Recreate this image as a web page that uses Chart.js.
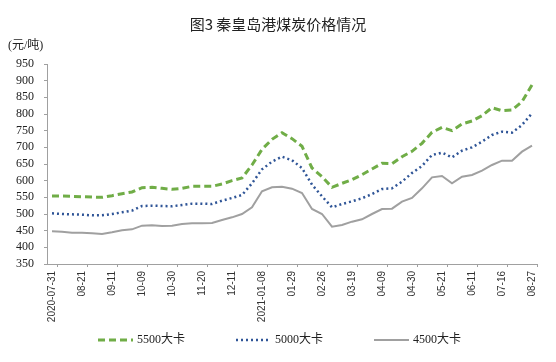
<!DOCTYPE html>
<html>
<head>
<meta charset="utf-8">
<script src="https://cdn.jsdelivr.net/npm/chart.js@4/dist/chart.umd.min.js"></script>
<style>
  html, body { margin: 0; padding: 0; background: #fff; }
  #wrap { width: 556px; height: 362px; }
</style>
</head>
<body>
<div id="wrap"><canvas id="grafico" width="556" height="362"></canvas></div>
<script>
// 49 weekly points, only every 3rd one has a date on the axis
const rotulos = ['2020-07-31', '08-21', '09-11', '10-09', '10-30', '11-20', '12-11',
  '2021-01-08', '01-29', '02-26', '03-19', '04-09', '04-30', '05-21', '06-11', '07-16', '08-27'];

const preco5500 = [554, 554, 553, 552, 551, 550, 555, 561, 566, 579, 580, 577, 574,
  577, 583, 583, 583, 590, 600, 608, 647, 694, 724, 744, 726, 703, 638, 612, 580,
  592, 603, 618, 635, 652, 651, 672, 688, 712, 745, 760, 750, 770, 779, 795, 819,
  810, 812, 837, 887];

const preco5000 = [502, 500, 499, 498, 496, 496, 500, 505, 510, 524, 525, 524, 523,
  527, 531, 531, 530, 540, 548, 557, 592, 634, 657, 672, 661, 638, 588, 553, 520,
  530, 538, 547, 560, 575, 577, 597, 623, 644, 677, 684, 670, 690, 700, 717, 737,
  747, 744, 767, 802];

const preco4500 = [448, 447, 444, 444, 442, 440, 445, 451, 454, 465, 466, 464, 465,
  470, 472, 472, 473, 482, 490, 500, 520, 568, 580, 582, 576, 563, 515, 500, 462,
  467, 477, 484, 500, 515, 516, 537, 548, 577, 610, 614, 592, 612, 617, 630, 647,
  660, 660, 687, 705];

const labels = preco5500.map((v, i) => (i % 3 === 0 ? rotulos[i / 3] : ''));

const corEixo = '#a0a0a0';

// title, unit and the legend row
const textos = {
  id: 'textos',
  afterDraw(chart) {
    const ctx = chart.ctx;
    ctx.save();
    ctx.fillStyle = '#222';
    ctx.textBaseline = 'middle';
    ctx.textAlign = 'center';
    ctx.font = '15px "Noto Sans CJK SC", sans-serif';
    ctx.fillText('图3 秦皇岛港煤炭价格情况', 278, 24);
    ctx.textAlign = 'left';
    ctx.font = '12px "Liberation Serif", "Noto Sans CJK SC", serif';
    ctx.fillText('(元/吨)', 8, 46);

    let x = 98;
    const y = 340;
    chart.data.datasets.forEach(ds => {
      ctx.strokeStyle = ds.borderColor;
      ctx.lineWidth = ds.borderWidth;
      ctx.setLineDash(ds.borderDash || []);
      ctx.beginPath();
      ctx.moveTo(x, y);
      ctx.lineTo(x + 35, y);
      ctx.stroke();
      ctx.setLineDash([]);
      ctx.fillStyle = '#222';
      ctx.fillText(ds.label, x + 39, y);
      x += 39 + ctx.measureText(ds.label).width + 51;
    });
    ctx.restore();
  }
};

new Chart(document.getElementById('grafico').getContext('2d'), {
  type: 'line',
  data: {
    labels,
    datasets: [
      { label: '5500大卡', data: preco5500, borderColor: '#70ad47', borderWidth: 3,
        borderDash: [7, 4], pointRadius: 0, tension: 0, fill: false },
      { label: '5000大卡', data: preco5000, borderColor: '#2f5597', borderWidth: 2.5,
        borderDash: [2, 3], pointRadius: 0, tension: 0, fill: false },
      { label: '4500大卡', data: preco4500, borderColor: '#a0a0a0', borderWidth: 2,
        pointRadius: 0, tension: 0, fill: false }
    ]
  },
  options: {
    responsive: false,
    animation: false,
    events: [],
    layout: { padding: { left: 0, right: 19, top: 64, bottom: 34 } },
    plugins: {
      title: { display: false },
      tooltip: { enabled: false },
      legend: { display: false }
    },
    scales: {
      x: {
        offset: true,
        afterFit(scale) { scale.height = 64; },
        grid: {
          offset: true,
          drawOnChartArea: false,
          tickLength: 3,
          color: ctx => (ctx.type === 'scale' || ctx.index % 3 === 1) ? corEixo : 'rgba(0,0,0,0)'
        },
        border: { color: corEixo, width: 1 },
        ticks: {
          autoSkip: false,
          minRotation: 90,
          maxRotation: 90,
          padding: 4,
          color: '#333',
          font: { family: '"Liberation Sans", sans-serif', size: 10 }
        }
      },
      y: {
        min: 350,
        max: 950,
        afterFit(scale) { scale.width = 47; },
        grid: { drawOnChartArea: false, tickLength: 3, color: corEixo },
        border: { color: corEixo, width: 1 },
        ticks: {
          stepSize: 50,
          autoSkip: false,
          padding: 10,
          color: '#222',
          font: { family: '"Liberation Serif", serif', size: 12 }
        }
      }
    }
  },
  plugins: [textos]
});
</script>
</body>
</html>
